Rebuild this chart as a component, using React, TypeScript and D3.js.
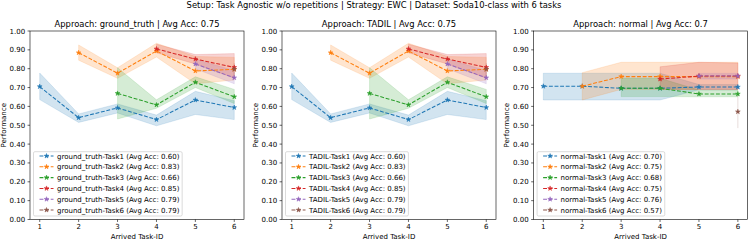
import React from 'react';
import * as d3 from 'd3';

// ---------- data ----------
const taskIds = [1, 2, 3, 4, 5, 6];
const yTicks = [0, 0.1, 0.2, 0.3, 0.4, 0.5, 0.6, 0.7, 0.8, 0.9, 1.0];
const colors = ['#1f77b4', '#ff7f0e', '#2ca02c', '#d62728', '#9467bd', '#8c564b'];

const suptitle = 'Setup: Task Agnostic w/o repetitions | Strategy: EWC | Dataset: Soda10-class with 6 tasks';
const approaches = ['ground_truth', 'TADIL', 'normal'];
const approachAvg = ['0.75', '0.75', '0.7'];

// ground_truth: mean / low / high per task (task k starts at task-id k)
const gtMean = [
  [0.705, 0.540, 0.592, 0.530, 0.634, 0.594],
  [0.885, 0.776, 0.894, 0.788, 0.797],
  [0.669, 0.608, 0.728, 0.651],
  [0.905, 0.851, 0.807],
  [0.825, 0.752],
  [0.797],
];
const gtLow = [
  [0.636, 0.515, 0.565, 0.497, 0.557, 0.530],
  [0.845, 0.749, 0.862, 0.720, 0.740],
  [0.533, 0.590, 0.700, 0.615],
  [0.885, 0.825, 0.750],
  [0.800, 0.720],
  [0.760],
];
const gtHigh = [
  [0.777, 0.560, 0.613, 0.554, 0.680, 0.630],
  [0.926, 0.805, 0.935, 0.865, 0.860],
  [0.805, 0.635, 0.757, 0.690],
  [0.930, 0.875, 0.880],
  [0.850, 0.790],
  [0.830],
];
const gtTaskAvg = ['0.60', '0.83', '0.66', '0.85', '0.79', '0.79'];

// TADIL
const tadilMean = [
  [0.705, 0.540, 0.592, 0.530, 0.634, 0.594],
  [0.885, 0.776, 0.894, 0.788, 0.797],
  [0.669, 0.608, 0.728, 0.651],
  [0.905, 0.851, 0.807],
  [0.825, 0.752],
  [0.797],
];
const tadilLow = [
  [0.636, 0.515, 0.565, 0.497, 0.557, 0.530],
  [0.845, 0.749, 0.862, 0.720, 0.740],
  [0.533, 0.590, 0.700, 0.615],
  [0.885, 0.825, 0.750],
  [0.800, 0.720],
  [0.760],
];
const tadilHigh = [
  [0.777, 0.560, 0.613, 0.554, 0.680, 0.630],
  [0.926, 0.805, 0.935, 0.865, 0.860],
  [0.805, 0.635, 0.757, 0.690],
  [0.930, 0.875, 0.880],
  [0.850, 0.790],
  [0.830],
];
const tadilTaskAvg = ['0.60', '0.83', '0.66', '0.85', '0.79', '0.79'];

// normal
const normalMean = [
  [0.707, 0.707, 0.696, 0.696, 0.703, 0.703],
  [0.707, 0.758, 0.758, 0.758, 0.758],
  [0.696, 0.696, 0.666, 0.666],
  [0.745, 0.761, 0.761],
  [0.761, 0.761],
  [0.572],
];
const normalLow = [
  [0.634, 0.634, 0.634, 0.634, 0.688, 0.688],
  [0.634, 0.690, 0.690, 0.690, 0.690],
  [0.652, 0.652, 0.651, 0.651],
  [0.690, 0.690, 0.690],
  [0.745, 0.745],
  [0.485],
];
const normalHigh = [
  [0.776, 0.776, 0.776, 0.776, 0.716, 0.716],
  [0.779, 0.834, 0.834, 0.834, 0.834],
  [0.749, 0.749, 0.687, 0.687],
  [0.810, 0.834, 0.830],
  [0.775, 0.775],
  [0.660],
];
const normalTaskAvg = ['0.70', '0.75', '0.68', '0.75', '0.76', '0.57'];

const panelData = [
  { mean: gtMean, low: gtLow, high: gtHigh, avg: gtTaskAvg },
  { mean: tadilMean, low: tadilLow, high: tadilHigh, avg: tadilTaskAvg },
  { mean: normalMean, low: normalLow, high: normalHigh, avg: normalTaskAvg },
];

// ---------- layout ----------
const W = 748;
const H = 241;
const panelLefts = [30, 282, 533.6];
const panelW = 214;
const plotTop = 31;
const plotBottom = 219.5;
const FONT = 'DejaVu Sans, sans-serif';

let measureCtx: CanvasRenderingContext2D | null = null;
function measure(text: string, size: number) {
  if (!measureCtx) {
    const c = document.createElement('canvas');
    measureCtx = c.getContext('2d');
  }
  if (!measureCtx) return text.length * size * 0.55;
  measureCtx.font = `${size}px "DejaVu Sans"`;
  return measureCtx.measureText(text).width;
}

function starPath(r: number) {
  const inner = r * 0.381966;
  const pts: [number, number][] = [];
  for (let k = 0; k < 10; k++) {
    const a = -Math.PI / 2 + (k * Math.PI) / 5;
    const rr = k % 2 === 0 ? r : inner;
    pts.push([rr * Math.cos(a), rr * Math.sin(a)]);
  }
  return 'M' + pts.map((p) => `${p[0].toFixed(2)},${p[1].toFixed(2)}`).join('L') + 'Z';
}
const STAR = starPath(2.5);
const DASH = '3.9,1.7';

function Panel({ idx }: { idx: number }) {
  const left = panelLefts[idx];
  const right = left + panelW;
  const data = panelData[idx];
  const name = approaches[idx];
  const x = d3.scaleLinear().domain([0.75, 6.25]).range([left, right]);
  const y = d3.scaleLinear().domain([0, 1]).range([plotBottom, plotTop]);

  const series = data.mean.map((m, t) =>
    m.map((v, j) => ({ x: taskIds[t + j], m: v, lo: data.low[t][j], hi: data.high[t][j] }))
  );
  const line = d3.line<any>().x((d) => x(d.x)).y((d) => y(d.m));
  const area = d3.area<any>().x((d) => x(d.x)).y0((d) => y(d.lo)).y1((d) => y(d.hi));

  const labels = taskIds.map((_, t) => `${name}-Task${t + 1} (Avg Acc: ${data.avg[t]})`);
  const maxW = Math.max(...labels.map((l) => measure(l, 7)));
  const legLeft = left + 3.5;
  const legBottom = plotBottom - 3.5;
  const rowH = 10.8;
  const legTop = legBottom - 64.3;
  const handleX0 = legLeft + 6;
  const handleX1 = handleX0 + 14;
  const textX = handleX1 + 3.5;
  const legRight = textX + maxW + 2.8;
  const cx = (left + right) / 2;

  return (
    <g>
      {/* fills */}
      {series.map((s, t) =>
        s.length > 1 ? (
          <path key={'a' + t} d={area(s) || ''} fill={colors[t]} fillOpacity={0.2}
            stroke={colors[t]} strokeOpacity={0.2} strokeWidth={0.7} />
        ) : (
          <line key={'a' + t} x1={x(s[0].x)} x2={x(s[0].x)} y1={y(s[0].lo)} y2={y(s[0].hi)}
            stroke={colors[t]} strokeOpacity={0.2} strokeWidth={1} />
        )
      )}
      {/* lines */}
      {series.map((s, t) => (
        <g key={'l' + t}>
          <path d={line(s) || ''} fill="none" stroke={colors[t]} strokeWidth={1.05} strokeDasharray={DASH} />
          {s.map((d, j) => (
            <path key={j} d={STAR} transform={`translate(${x(d.x)},${y(d.m)})`} fill={colors[t]}
              stroke={colors[t]} strokeWidth={0.5} />
          ))}
        </g>
      ))}
      {/* frame */}
      <rect x={left} y={plotTop} width={panelW} height={plotBottom - plotTop} fill="none" stroke="#000" strokeWidth={0.6} />
      {/* y ticks */}
      {yTicks.map((v) => (
        <g key={'y' + v}>
          <line x1={left - 2.45} x2={left} y1={y(v)} y2={y(v)} stroke="#000" strokeWidth={0.6} />
          <text x={left - 4.9} y={y(v)} dy="0.36em" textAnchor="end" fontSize={7} fontFamily={FONT}>
            {v.toFixed(2)}
          </text>
        </g>
      ))}
      {/* x ticks */}
      {taskIds.map((v) => (
        <g key={'x' + v}>
          <line x1={x(v)} x2={x(v)} y1={plotBottom} y2={plotBottom + 2.45} stroke="#000" strokeWidth={0.6} />
          <text x={x(v)} y={229.3} textAnchor="middle" fontSize={7} fontFamily={FONT}>{v}</text>
        </g>
      ))}
      <text x={cx} y={239.3} textAnchor="middle" fontSize={7} fontFamily={FONT}>Arrived Task-ID</text>
      <text transform={`translate(${left - 24.5},${(plotTop + plotBottom) / 2}) rotate(-90)`} textAnchor="middle"
        fontSize={7} fontFamily={FONT}>Performance</text>
      <text x={cx} y={26.5} textAnchor="middle" fontSize={8.4} fontFamily={FONT}>
        {`Approach: ${name} | Avg Acc: ${approachAvg[idx]}`}
      </text>
      {/* legend */}
      <rect x={legLeft} y={legTop} width={legRight - legLeft} height={legBottom - legTop} rx={1.4}
        fill="#fff" fillOpacity={0.8} stroke="#ccc" strokeWidth={0.7} />
      {labels.map((l, t) => {
        const ry = legTop + 4.3 + rowH * t;
        return (
          <g key={'lg' + t}>
            <line x1={handleX0} x2={handleX1} y1={ry} y2={ry} stroke={colors[t]} strokeWidth={1.05} strokeDasharray={DASH} />
            <path d={STAR} transform={`translate(${(handleX0 + handleX1) / 2},${ry})`} fill={colors[t]}
              stroke={colors[t]} strokeWidth={0.5} />
            <text x={textX} y={ry} dy="0.36em" fontSize={7} fontFamily={FONT}>{l}</text>
          </g>
        );
      })}
    </g>
  );
}

export default function App() {
  return (
    <svg width={W} height={H} style={{ position: 'absolute', left: 0, top: 0, background: '#fff' }}>
      <rect width={W} height={H} fill="#fff" />
      <text x={W / 2} y={7.5} textAnchor="middle" fontSize={8.4} fontFamily={FONT}>{suptitle}</text>
      {[0, 1, 2].map((i) => (
        <Panel key={i} idx={i} />
      ))}
    </svg>
  );
}
